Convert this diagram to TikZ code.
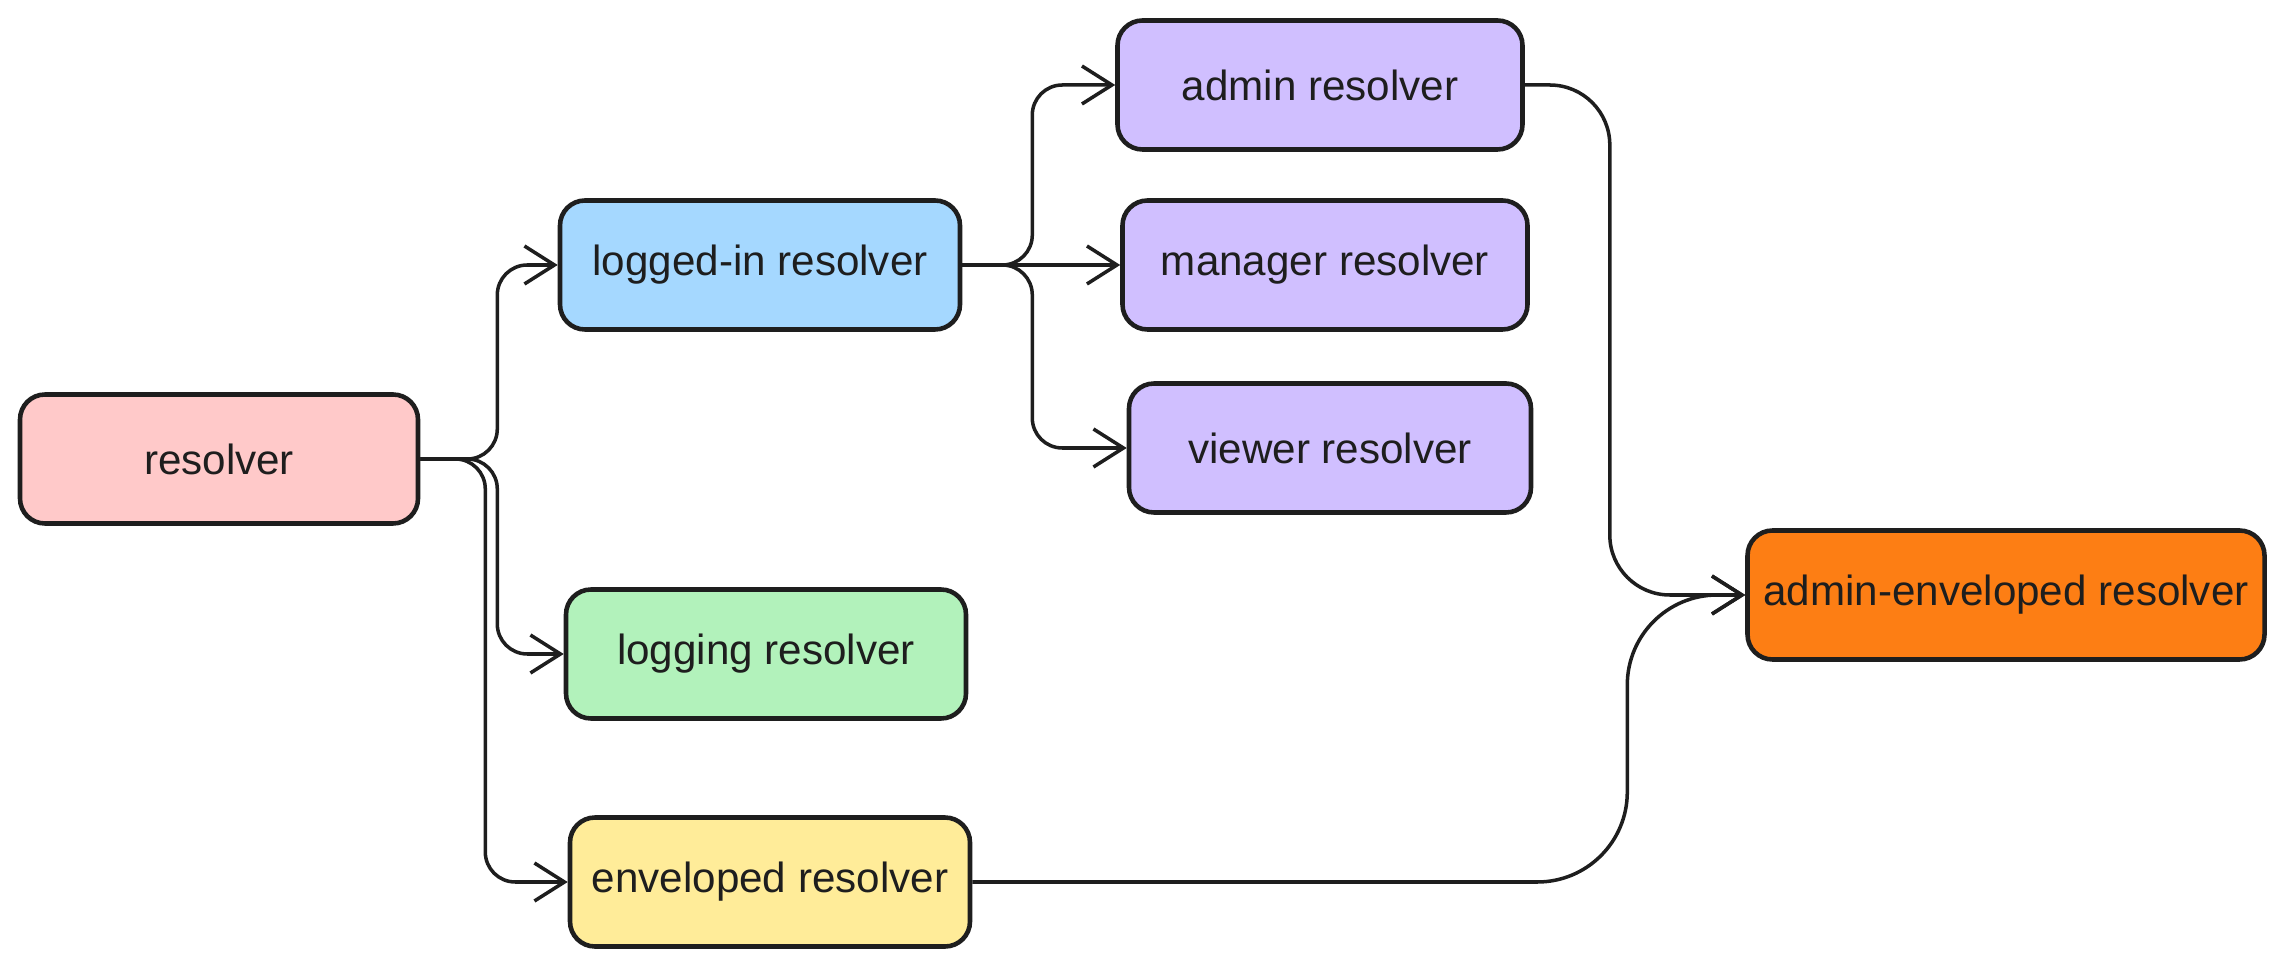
\documentclass[tikz,border=0pt]{standalone}
\usepackage{xcolor}
\usepackage{fontspec}
\setmainfont{Liberation Sans}
\usetikzlibrary{arrows.meta}

\definecolor{inkdark}{HTML}{1E1E1E}
\definecolor{pinkfill}{HTML}{FFC9C9}
\definecolor{bluefill}{HTML}{A5D8FF}
\definecolor{greenfill}{HTML}{B2F2BB}
\definecolor{yellowfill}{HTML}{FFEC99}
\definecolor{purplefill}{HTML}{D0BFFF}
\definecolor{orangefill}{HTML}{FD7E14}

\tikzset{
  resbox/.style={draw=inkdark, line width=1.3pt, rounded corners=0.25cm,
    minimum width=4cm, minimum height=1.29cm, inner sep=0pt,
    font=\fontsize{12}{14}\selectfont, text=inkdark},
  conn/.style={draw=inkdark, line width=1pt, rounded corners=0.3cm,
    -{Straight Barb[length=0.3cm, width=0.38cm, line width=1pt]}}
}

\begin{document}
\begin{tikzpicture}
    \useasboundingbox (0,0) rectangle (22.81,-9.68);
    % boxes
    \node[resbox, fill=pinkfill, minimum width=3.98cm] (resolver) at (2.19,-4.59) {resolver};
    \node[resbox, fill=bluefill] (loggedin) at (7.60,-2.65) {logged-in resolver};
    \node[resbox, fill=greenfill] (logging) at (7.66,-6.54) {logging resolver};
    \node[resbox, fill=yellowfill] (enveloped) at (7.70,-8.82) {enveloped resolver};
    \node[resbox, fill=purplefill, minimum width=4.05cm] (admin) at (13.20,-0.85) {admin resolver};
    \node[resbox, fill=purplefill, minimum width=4.05cm] (manager) at (13.25,-2.65) {manager resolver};
    \node[resbox, fill=purplefill, minimum width=4.02cm] (viewer) at (13.30,-4.48) {viewer resolver};
    \node[resbox, fill=orangefill, minimum width=5.17cm] (adminenv) at (20.06,-5.95) {admin-enveloped resolver};
    % connectors
    \draw[conn] (resolver.east) -- ++(0.77,0) |- (loggedin.west);
    \draw[conn] (resolver.east) -- ++(0.77,0) |- (logging.west);
    \draw[conn] (resolver.east) -- ++(0.65,0) |- (enveloped.west);
    \draw[conn] (loggedin.east) -- ++(0.70,0) |- (admin.west);
    \draw[conn] (loggedin.east) -- (manager.west);
    \draw[conn] (loggedin.east) -- ++(0.70,0) |- (viewer.west);
    \draw[conn, rounded corners=0.6cm] (admin.east) -- ++(0.85,0) |- (adminenv.west);
    \draw[conn, rounded corners=0.9cm] (enveloped.east) -- ++(6.55,0) |- (adminenv.west);
  \end{tikzpicture}
\end{document}
